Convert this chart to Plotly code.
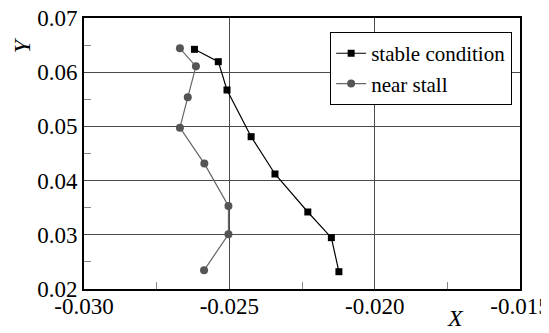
import plotly.graph_objects as go

stable_x = [-0.02620, -0.02538, -0.02508, -0.02425, -0.02343, -0.02230, -0.02149, -0.02123]
stable_y = [0.06422, 0.06194, 0.05672, 0.04810, 0.04122, 0.03421, 0.02947, 0.02319]
stall_x = [-0.02670, -0.02615, -0.02643, -0.02670, -0.02586, -0.02503, -0.02503, -0.02587]
stall_y = [0.06441, 0.06109, 0.05537, 0.04976, 0.04314, 0.03531, 0.03009, 0.02345]

x_ticks = [-0.030, -0.025, -0.020, -0.015]
x_ticktext = ["-0.030", "-0.025", "-0.020", "-0.015"]
y_ticks = [0.02, 0.03, 0.04, 0.05, 0.06, 0.07]
y_ticktext = ["0.02", "0.03", "0.04", "0.05", "0.06", "0.07"]

FONT = "Liberation Serif"

fig = go.Figure()
fig.add_trace(go.Scatter(x=stable_x, y=stable_y, mode="lines+markers", name="stable condition",
                         line=dict(color="black", width=1.2),
                         marker=dict(symbol="square", size=7, color="black")))
fig.add_trace(go.Scatter(x=stall_x, y=stall_y, mode="lines+markers", name="near stall",
                         line=dict(color="#666666", width=1.2),
                         marker=dict(symbol="circle", size=8, color="#555555")))

fig.update_layout(
    width=541, height=325,
    margin=dict(l=76, r=29, t=10, b=44, autoexpand=False),
    plot_bgcolor="white", paper_bgcolor="white",
    font=dict(family=FONT, color="black", size=22),
    showlegend=True,
    legend=dict(x=0.982, y=0.948, xanchor="right", yanchor="top",
                bgcolor="white", bordercolor="black", borderwidth=1,
                font=dict(family=FONT, size=21), tracegroupgap=0,
                itemwidth=30),
)
fig.update_xaxes(range=[-0.030, -0.015], tickmode="array", tickvals=x_ticks, ticktext=x_ticktext,
                 showgrid=True, gridcolor="#4a4a4a", gridwidth=1, automargin=False,
                 ticklabeloverflow="allow", ticklabelstandoff=-5,
                 showline=True, linecolor="black", linewidth=2, mirror=True,
                 ticks="inside", ticklen=0, zeroline=False,
                 minor=dict(tickmode="array", tickvals=[-0.0275, -0.0225, -0.0175],
                            ticks="inside", ticklen=7, tickcolor="#888888", showgrid=False),
                 tickfont=dict(family=FONT, size=23))
fig.update_yaxes(range=[0.02, 0.07], tickmode="array", tickvals=y_ticks, ticktext=y_ticktext,
                 showgrid=True, gridcolor="#4a4a4a", gridwidth=1, automargin=False,
                 ticklabeloverflow="allow",
                 showline=True, linecolor="black", linewidth=2, mirror=True,
                 ticks="inside", ticklen=0, zeroline=False,
                 minor=dict(tickmode="array", tickvals=[0.025, 0.035, 0.045, 0.055, 0.065],
                            ticks="inside", ticklen=7, tickcolor="#888888", showgrid=False),
                 tickfont=dict(family=FONT, size=23))

fig.add_annotation(text="<i>Y</i>", xref="paper", yref="paper", x=-0.142, y=0.90,
                   xanchor="center", yanchor="middle",
                   showarrow=False, textangle=-90, font=dict(family=FONT, size=24))
fig.add_annotation(text="<i>X</i>", xref="paper", yref="paper", x=0.851, y=-0.108,
                   xanchor="center", yanchor="middle",
                   showarrow=False, font=dict(family=FONT, size=24))

fig.write_html("out.html")
